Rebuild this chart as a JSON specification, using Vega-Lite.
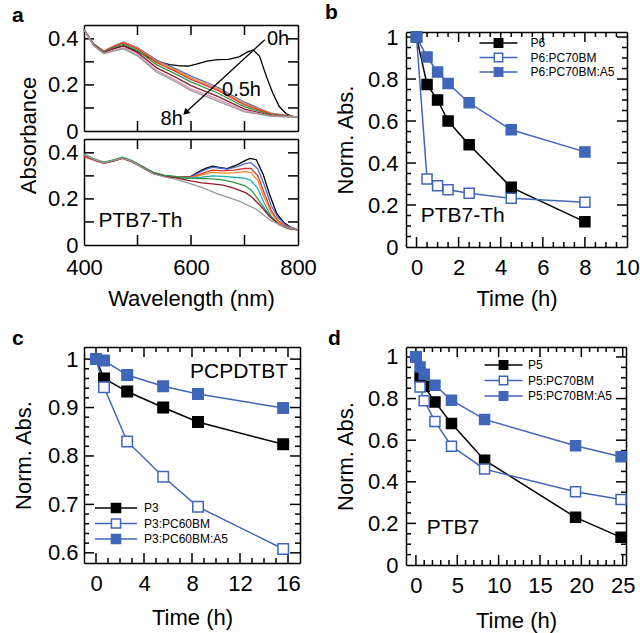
{
  "$schema": "https://vega.github.io/schema/vega-lite/v6.json",
  "autosize": {"type": "none"},
  "padding": {"left": 84, "top": 25, "right": 556, "bottom": 608},
  "config": {
    "font": "Liberation Sans",
    "view": {"stroke": null},
    "axis": {"domain": true, "domainColor": "black", "domainWidth": 1.5, "grid": false, "ticks": false, "labelColor": "black", "titleColor": "black", "labelFontSize": 22, "titleFontSize": 22, "titleFontWeight": "normal", "labelFlush": false, "labelOverlap": false, "labelBound": false},
    "legend": {"labelColor": "black"},
    "text": {"color": "black"},
    "rule": {"color": "black", "strokeWidth": 1.5}
  },
  "datasets": {
    "tax": [{"v":500},{"v":600},{"v":700}],
    "tay": [{"v":0.1},{"v":0.2},{"v":0.3},{"v":0.4}],
    "bxM": [{"v":0},{"v":2},{"v":4},{"v":6},{"v":8}],
    "bxm": [{"v":0.5},{"v":1},{"v":1.5},{"v":2.5},{"v":3},{"v":3.5},{"v":4.5},{"v":5},{"v":5.5},{"v":6.5},{"v":7},{"v":7.5},{"v":8.5},{"v":9},{"v":9.5}],
    "byM": [{"v":0.2},{"v":0.4},{"v":0.6},{"v":0.8},{"v":1}],
    "bym": [{"v":0.05},{"v":0.1},{"v":0.15},{"v":0.25},{"v":0.3},{"v":0.35},{"v":0.45},{"v":0.5},{"v":0.55},{"v":0.65},{"v":0.7},{"v":0.75},{"v":0.85},{"v":0.9},{"v":0.95}],
    "cxM": [{"v":0},{"v":4},{"v":8},{"v":12},{"v":16}],
    "cxm": [{"v":1},{"v":2},{"v":3},{"v":5},{"v":6},{"v":7},{"v":9},{"v":10},{"v":11},{"v":13},{"v":14},{"v":15}],
    "cyM": [{"v":0.6},{"v":0.7},{"v":0.8},{"v":0.9},{"v":1}],
    "cym": [{"v":0.62},{"v":0.64},{"v":0.66},{"v":0.68},{"v":0.72},{"v":0.74},{"v":0.76},{"v":0.78},{"v":0.82},{"v":0.84},{"v":0.86},{"v":0.88},{"v":0.92},{"v":0.94},{"v":0.96},{"v":0.98}],
    "dxM": [{"v":0},{"v":5},{"v":10},{"v":15},{"v":20},{"v":25}],
    "dxm": [{"v":1},{"v":2},{"v":3},{"v":4},{"v":6},{"v":7},{"v":8},{"v":9},{"v":11},{"v":12},{"v":13},{"v":14},{"v":16},{"v":17},{"v":18},{"v":19},{"v":21},{"v":22},{"v":23},{"v":24}],
    "dyM": [{"v":0.2},{"v":0.4},{"v":0.6},{"v":0.8},{"v":1}],
    "dym": [{"v":0.05},{"v":0.1},{"v":0.15},{"v":0.25},{"v":0.3},{"v":0.35},{"v":0.45},{"v":0.5},{"v":0.55},{"v":0.65},{"v":0.7},{"v":0.75},{"v":0.85},{"v":0.9},{"v":0.95}],
    "atop": [
      {"s":"0h","w":400,"a":0.44},{"s":"0h","w":418,"a":0.375},{"s":"0h","w":437,"a":0.345},{"s":"0h","w":455,"a":0.357},{"s":"0h","w":474,"a":0.37},{"s":"0h","w":500,"a":0.345},{"s":"0h","w":520,"a":0.32},{"s":"0h","w":536,"a":0.302},{"s":"0h","w":560,"a":0.288},{"s":"0h","w":580,"a":0.283},{"s":"0h","w":595,"a":0.282},{"s":"0h","w":610,"a":0.29},{"s":"0h","w":630,"a":0.303},{"s":"0h","w":650,"a":0.31},{"s":"0h","w":670,"a":0.311},{"s":"0h","w":690,"a":0.322},{"s":"0h","w":705,"a":0.342},{"s":"0h","w":716,"a":0.352},{"s":"0h","w":728,"a":0.325},{"s":"0h","w":741,"a":0.236},{"s":"0h","w":753,"a":0.164},{"s":"0h","w":765,"a":0.106},{"s":"0h","w":778,"a":0.075},{"s":"0h","w":790,"a":0.062},{"s":"0h","w":800,"a":0.058},
      {"s":"0.5h","w":400,"a":0.44},{"s":"0.5h","w":418,"a":0.378},{"s":"0.5h","w":437,"a":0.347},{"s":"0.5h","w":455,"a":0.368},{"s":"0.5h","w":474,"a":0.386},{"s":"0.5h","w":500,"a":0.362},{"s":"0.5h","w":536,"a":0.308},{"s":"0.5h","w":570,"a":0.272},{"s":"0.5h","w":600,"a":0.238},{"s":"0.5h","w":650,"a":0.19},{"s":"0.5h","w":700,"a":0.125},{"s":"0.5h","w":750,"a":0.077},{"s":"0.5h","w":800,"a":0.06},
      {"s":"1h","w":400,"a":0.44},{"s":"1h","w":418,"a":0.377},{"s":"1h","w":437,"a":0.346},{"s":"1h","w":455,"a":0.367},{"s":"1h","w":474,"a":0.385},{"s":"1h","w":500,"a":0.36},{"s":"1h","w":536,"a":0.303},{"s":"1h","w":570,"a":0.266},{"s":"1h","w":600,"a":0.231},{"s":"1h","w":650,"a":0.183},{"s":"1h","w":700,"a":0.119},{"s":"1h","w":750,"a":0.075},{"s":"1h","w":800,"a":0.06},
      {"s":"1.5h","w":400,"a":0.44},{"s":"1.5h","w":418,"a":0.376},{"s":"1.5h","w":437,"a":0.345},{"s":"1.5h","w":455,"a":0.365},{"s":"1.5h","w":474,"a":0.382},{"s":"1.5h","w":500,"a":0.356},{"s":"1.5h","w":536,"a":0.297},{"s":"1.5h","w":570,"a":0.26},{"s":"1.5h","w":600,"a":0.224},{"s":"1.5h","w":650,"a":0.176},{"s":"1.5h","w":700,"a":0.113},{"s":"1.5h","w":750,"a":0.073},{"s":"1.5h","w":800,"a":0.06},
      {"s":"2.5h","w":400,"a":0.44},{"s":"2.5h","w":418,"a":0.375},{"s":"2.5h","w":437,"a":0.343},{"s":"2.5h","w":455,"a":0.361},{"s":"2.5h","w":474,"a":0.377},{"s":"2.5h","w":500,"a":0.349},{"s":"2.5h","w":536,"a":0.287},{"s":"2.5h","w":570,"a":0.249},{"s":"2.5h","w":600,"a":0.213},{"s":"2.5h","w":650,"a":0.165},{"s":"2.5h","w":700,"a":0.105},{"s":"2.5h","w":750,"a":0.07},{"s":"2.5h","w":800,"a":0.06},
      {"s":"4.5h","w":400,"a":0.44},{"s":"4.5h","w":418,"a":0.373},{"s":"4.5h","w":437,"a":0.34},{"s":"4.5h","w":455,"a":0.356},{"s":"4.5h","w":474,"a":0.369},{"s":"4.5h","w":500,"a":0.34},{"s":"4.5h","w":536,"a":0.274},{"s":"4.5h","w":570,"a":0.235},{"s":"4.5h","w":600,"a":0.197},{"s":"4.5h","w":650,"a":0.15},{"s":"4.5h","w":700,"a":0.095},{"s":"4.5h","w":750,"a":0.067},{"s":"4.5h","w":800,"a":0.06},
      {"s":"6h","w":400,"a":0.44},{"s":"6h","w":418,"a":0.371},{"s":"6h","w":437,"a":0.337},{"s":"6h","w":455,"a":0.35},{"s":"6h","w":474,"a":0.361},{"s":"6h","w":500,"a":0.331},{"s":"6h","w":536,"a":0.262},{"s":"6h","w":570,"a":0.222},{"s":"6h","w":600,"a":0.183},{"s":"6h","w":650,"a":0.138},{"s":"6h","w":700,"a":0.088},{"s":"6h","w":750,"a":0.065},{"s":"6h","w":800,"a":0.06},
      {"s":"8h","w":400,"a":0.44},{"s":"8h","w":418,"a":0.37},{"s":"8h","w":437,"a":0.335},{"s":"8h","w":455,"a":0.347},{"s":"8h","w":474,"a":0.356},{"s":"8h","w":500,"a":0.326},{"s":"8h","w":536,"a":0.255},{"s":"8h","w":570,"a":0.215},{"s":"8h","w":600,"a":0.175},{"s":"8h","w":650,"a":0.13},{"s":"8h","w":700,"a":0.083},{"s":"8h","w":750,"a":0.064},{"s":"8h","w":800,"a":0.06}
    ],
    "abot": [
      {"s":"0h","w":400,"a":0.388},{"s":"0h","w":418,"a":0.371},{"s":"0h","w":437,"a":0.356},{"s":"0h","w":455,"a":0.365},{"s":"0h","w":472,"a":0.377},{"s":"0h","w":490,"a":0.362},{"s":"0h","w":510,"a":0.336},{"s":"0h","w":530,"a":0.311},{"s":"0h","w":550,"a":0.299},{"s":"0h","w":570,"a":0.296},{"s":"0h","w":585,"a":0.295},{"s":"0h","w":600,"a":0.298},{"s":"0h","w":620,"a":0.325},{"s":"0h","w":630,"a":0.335},{"s":"0h","w":640,"a":0.342},{"s":"0h","w":655,"a":0.336},{"s":"0h","w":668,"a":0.331},{"s":"0h","w":687,"a":0.349},{"s":"0h","w":700,"a":0.365},{"s":"0h","w":710,"a":0.376},{"s":"0h","w":722,"a":0.37},{"s":"0h","w":735,"a":0.306},{"s":"0h","w":747,"a":0.218},{"s":"0h","w":760,"a":0.138},{"s":"0h","w":773,"a":0.099},{"s":"0h","w":789,"a":0.073},{"s":"0h","w":800,"a":0.066},
      {"s":"0.5h","w":400,"a":0.39},{"s":"0.5h","w":418,"a":0.372},{"s":"0.5h","w":437,"a":0.357},{"s":"0.5h","w":455,"a":0.366},{"s":"0.5h","w":472,"a":0.378},{"s":"0.5h","w":490,"a":0.363},{"s":"0.5h","w":510,"a":0.337},{"s":"0.5h","w":530,"a":0.312},{"s":"0.5h","w":550,"a":0.3},{"s":"0.5h","w":570,"a":0.296},{"s":"0.5h","w":585,"a":0.294},{"s":"0.5h","w":600,"a":0.296},{"s":"0.5h","w":620,"a":0.32},{"s":"0.5h","w":640,"a":0.338},{"s":"0.5h","w":655,"a":0.333},{"s":"0.5h","w":668,"a":0.329},{"s":"0.5h","w":687,"a":0.34},{"s":"0.5h","w":700,"a":0.352},{"s":"0.5h","w":712,"a":0.357},{"s":"0.5h","w":725,"a":0.33},{"s":"0.5h","w":737,"a":0.26},{"s":"0.5h","w":750,"a":0.17},{"s":"0.5h","w":763,"a":0.118},{"s":"0.5h","w":778,"a":0.085},{"s":"0.5h","w":800,"a":0.066},
      {"s":"1h","w":400,"a":0.383},{"s":"1h","w":418,"a":0.368},{"s":"1h","w":437,"a":0.354},{"s":"1h","w":455,"a":0.364},{"s":"1h","w":472,"a":0.376},{"s":"1h","w":490,"a":0.361},{"s":"1h","w":510,"a":0.335},{"s":"1h","w":530,"a":0.31},{"s":"1h","w":550,"a":0.299},{"s":"1h","w":570,"a":0.295},{"s":"1h","w":585,"a":0.293},{"s":"1h","w":600,"a":0.294},{"s":"1h","w":620,"a":0.31},{"s":"1h","w":640,"a":0.325},{"s":"1h","w":660,"a":0.322},{"s":"1h","w":680,"a":0.325},{"s":"1h","w":700,"a":0.332},{"s":"1h","w":712,"a":0.332},{"s":"1h","w":725,"a":0.3},{"s":"1h","w":737,"a":0.225},{"s":"1h","w":750,"a":0.15},{"s":"1h","w":763,"a":0.105},{"s":"1h","w":778,"a":0.08},{"s":"1h","w":800,"a":0.066},
      {"s":"1.5h","w":400,"a":0.386},{"s":"1.5h","w":418,"a":0.37},{"s":"1.5h","w":437,"a":0.356},{"s":"1.5h","w":455,"a":0.366},{"s":"1.5h","w":472,"a":0.378},{"s":"1.5h","w":490,"a":0.363},{"s":"1.5h","w":510,"a":0.337},{"s":"1.5h","w":530,"a":0.312},{"s":"1.5h","w":550,"a":0.3},{"s":"1.5h","w":570,"a":0.296},{"s":"1.5h","w":585,"a":0.293},{"s":"1.5h","w":600,"a":0.293},{"s":"1.5h","w":620,"a":0.303},{"s":"1.5h","w":640,"a":0.315},{"s":"1.5h","w":660,"a":0.312},{"s":"1.5h","w":680,"a":0.313},{"s":"1.5h","w":700,"a":0.318},{"s":"1.5h","w":712,"a":0.314},{"s":"1.5h","w":725,"a":0.28},{"s":"1.5h","w":737,"a":0.205},{"s":"1.5h","w":750,"a":0.14},{"s":"1.5h","w":763,"a":0.1},{"s":"1.5h","w":778,"a":0.078},{"s":"1.5h","w":800,"a":0.066},
      {"s":"2.5h","w":400,"a":0.39},{"s":"2.5h","w":418,"a":0.372},{"s":"2.5h","w":437,"a":0.357},{"s":"2.5h","w":455,"a":0.367},{"s":"2.5h","w":472,"a":0.379},{"s":"2.5h","w":490,"a":0.364},{"s":"2.5h","w":510,"a":0.338},{"s":"2.5h","w":530,"a":0.313},{"s":"2.5h","w":550,"a":0.301},{"s":"2.5h","w":570,"a":0.297},{"s":"2.5h","w":585,"a":0.292},{"s":"2.5h","w":600,"a":0.291},{"s":"2.5h","w":620,"a":0.294},{"s":"2.5h","w":640,"a":0.3},{"s":"2.5h","w":660,"a":0.298},{"s":"2.5h","w":680,"a":0.294},{"s":"2.5h","w":700,"a":0.29},{"s":"2.5h","w":712,"a":0.28},{"s":"2.5h","w":725,"a":0.245},{"s":"2.5h","w":737,"a":0.18},{"s":"2.5h","w":750,"a":0.125},{"s":"2.5h","w":763,"a":0.092},{"s":"2.5h","w":778,"a":0.075},{"s":"2.5h","w":800,"a":0.066},
      {"s":"4.5h","w":400,"a":0.395},{"s":"4.5h","w":418,"a":0.375},{"s":"4.5h","w":437,"a":0.36},{"s":"4.5h","w":455,"a":0.369},{"s":"4.5h","w":472,"a":0.381},{"s":"4.5h","w":490,"a":0.366},{"s":"4.5h","w":510,"a":0.34},{"s":"4.5h","w":530,"a":0.315},{"s":"4.5h","w":550,"a":0.303},{"s":"4.5h","w":570,"a":0.298},{"s":"4.5h","w":585,"a":0.291},{"s":"4.5h","w":600,"a":0.289},{"s":"4.5h","w":620,"a":0.288},{"s":"4.5h","w":640,"a":0.287},{"s":"4.5h","w":660,"a":0.283},{"s":"4.5h","w":680,"a":0.272},{"s":"4.5h","w":700,"a":0.258},{"s":"4.5h","w":712,"a":0.24},{"s":"4.5h","w":725,"a":0.2},{"s":"4.5h","w":740,"a":0.15},{"s":"4.5h","w":752,"a":0.115},{"s":"4.5h","w":765,"a":0.088},{"s":"4.5h","w":780,"a":0.072},{"s":"4.5h","w":800,"a":0.066},
      {"s":"6h","w":400,"a":0.388},{"s":"6h","w":418,"a":0.371},{"s":"6h","w":437,"a":0.356},{"s":"6h","w":455,"a":0.365},{"s":"6h","w":472,"a":0.377},{"s":"6h","w":490,"a":0.362},{"s":"6h","w":510,"a":0.336},{"s":"6h","w":530,"a":0.311},{"s":"6h","w":550,"a":0.298},{"s":"6h","w":570,"a":0.292},{"s":"6h","w":585,"a":0.285},{"s":"6h","w":600,"a":0.278},{"s":"6h","w":620,"a":0.27},{"s":"6h","w":640,"a":0.265},{"s":"6h","w":660,"a":0.26},{"s":"6h","w":680,"a":0.247},{"s":"6h","w":703,"a":0.226},{"s":"6h","w":715,"a":0.205},{"s":"6h","w":728,"a":0.175},{"s":"6h","w":747,"a":0.124},{"s":"6h","w":766,"a":0.087},{"s":"6h","w":785,"a":0.07},{"s":"6h","w":800,"a":0.066},
      {"s":"8h","w":400,"a":0.392},{"s":"8h","w":418,"a":0.373},{"s":"8h","w":437,"a":0.357},{"s":"8h","w":455,"a":0.366},{"s":"8h","w":472,"a":0.378},{"s":"8h","w":490,"a":0.363},{"s":"8h","w":510,"a":0.335},{"s":"8h","w":530,"a":0.309},{"s":"8h","w":550,"a":0.296},{"s":"8h","w":570,"a":0.286},{"s":"8h","w":585,"a":0.276},{"s":"8h","w":600,"a":0.265},{"s":"8h","w":620,"a":0.25},{"s":"8h","w":650,"a":0.222},{"s":"8h","w":690,"a":0.19},{"s":"8h","w":722,"a":0.155},{"s":"8h","w":747,"a":0.11},{"s":"8h","w":773,"a":0.08},{"s":"8h","w":800,"a":0.066}
    ],
    "b": [
      {"s":"P6","t":0,"v":1.0},{"s":"P6","t":0.5,"v":0.774},{"s":"P6","t":1,"v":0.70},{"s":"P6","t":1.5,"v":0.60},{"s":"P6","t":2.5,"v":0.487},{"s":"P6","t":4.5,"v":0.284},{"s":"P6","t":8,"v":0.12},
      {"s":"P6:PC70BM","t":0,"v":1.0},{"s":"P6:PC70BM","t":0.5,"v":0.324},{"s":"P6:PC70BM","t":1,"v":0.292},{"s":"P6:PC70BM","t":1.5,"v":0.273},{"s":"P6:PC70BM","t":2.5,"v":0.256},{"s":"P6:PC70BM","t":4.5,"v":0.232},{"s":"P6:PC70BM","t":8,"v":0.213},
      {"s":"P6:PC70BM:A5","t":0,"v":1.0},{"s":"P6:PC70BM:A5","t":0.5,"v":0.905},{"s":"P6:PC70BM:A5","t":1,"v":0.833},{"s":"P6:PC70BM:A5","t":1.5,"v":0.779},{"s":"P6:PC70BM:A5","t":2.5,"v":0.687},{"s":"P6:PC70BM:A5","t":4.5,"v":0.558},{"s":"P6:PC70BM:A5","t":8,"v":0.453}
    ],
    "c": [
      {"s":"P3","t":0,"v":1.0},{"s":"P3","t":0.67,"v":0.96},{"s":"P3","t":2.6,"v":0.933},{"s":"P3","t":5.6,"v":0.9},{"s":"P3","t":8.5,"v":0.87},{"s":"P3","t":15.6,"v":0.824},
      {"s":"P3:PC60BM","t":0,"v":1.0},{"s":"P3:PC60BM","t":0.67,"v":0.942},{"s":"P3:PC60BM","t":2.6,"v":0.83},{"s":"P3:PC60BM","t":5.6,"v":0.757},{"s":"P3:PC60BM","t":8.5,"v":0.695},{"s":"P3:PC60BM","t":15.6,"v":0.608},
      {"s":"P3:PC60BM:A5","t":0,"v":1.0},{"s":"P3:PC60BM:A5","t":0.67,"v":0.997},{"s":"P3:PC60BM:A5","t":2.6,"v":0.967},{"s":"P3:PC60BM:A5","t":5.6,"v":0.944},{"s":"P3:PC60BM:A5","t":8.5,"v":0.928},{"s":"P3:PC60BM:A5","t":15.6,"v":0.899}
    ],
    "d": [
      {"s":"P5","t":0,"v":1.0},{"s":"P5","t":0.5,"v":0.904},{"s":"P5","t":1,"v":0.859},{"s":"P5","t":2.3,"v":0.784},{"s":"P5","t":4.3,"v":0.68},{"s":"P5","t":8.3,"v":0.504},{"s":"P5","t":19.3,"v":0.229},{"s":"P5","t":24.8,"v":0.133},
      {"s":"P5:PC70BM","t":0,"v":1.0},{"s":"P5:PC70BM","t":0.5,"v":0.856},{"s":"P5:PC70BM","t":1,"v":0.79},{"s":"P5:PC70BM","t":2.3,"v":0.69},{"s":"P5:PC70BM","t":4.3,"v":0.571},{"s":"P5:PC70BM","t":8.3,"v":0.461},{"s":"P5:PC70BM","t":19.3,"v":0.352},{"s":"P5:PC70BM","t":24.8,"v":0.315},
      {"s":"P5:PC70BM:A5","t":0,"v":1.0},{"s":"P5:PC70BM:A5","t":0.5,"v":0.952},{"s":"P5:PC70BM:A5","t":1,"v":0.917},{"s":"P5:PC70BM:A5","t":2.3,"v":0.864},{"s":"P5:PC70BM:A5","t":4.3,"v":0.792},{"s":"P5:PC70BM:A5","t":8.3,"v":0.70},{"s":"P5:PC70BM:A5","t":19.3,"v":0.573},{"s":"P5:PC70BM:A5","t":24.8,"v":0.52}
    ]
  },
  "vconcat": [
    {
      "hconcat": [
        {
          "vconcat": [
            {
              "width": 214, "height": 106,
              "title": {"text": "a", "anchor": "start", "frame": "group", "dx": -72, "dy": 19, "offset": 0, "baseline": "alphabetic", "fontSize": 21, "fontWeight": "bold"},
              "layer": [
                {"data": {"name": "tax"}, "mark": {"type": "rule", "y2Offset": -10}, "encoding": {"x": {"field": "v", "type": "quantitative", "axis": null}, "x2": {"field": "v"}, "y": {"datum": 0, "type": "quantitative", "axis": null}, "y2": {"datum": 0}}},
                {"data": {"name": "tax"}, "mark": {"type": "rule", "y2Offset": 10}, "encoding": {"x": {"field": "v", "type": "quantitative", "axis": null}, "x2": {"field": "v"}, "y": {"datum": 0.46, "type": "quantitative", "axis": null}, "y2": {"datum": 0.46}}},
                {"data": {"name": "tay"}, "mark": {"type": "rule", "x2Offset": 10}, "encoding": {"y": {"field": "v", "type": "quantitative", "axis": null}, "y2": {"field": "v"}, "x": {"datum": 400, "type": "quantitative", "axis": null}, "x2": {"datum": 400}}},
                {"data": {"name": "tay"}, "mark": {"type": "rule", "x2Offset": -10}, "encoding": {"y": {"field": "v", "type": "quantitative", "axis": null}, "y2": {"field": "v"}, "x": {"datum": 800, "type": "quantitative", "axis": null}, "x2": {"datum": 800}}},
                {
                  "data": {"name": "atop"},
                  "mark": {"type": "line", "strokeWidth": 1.3},
                  "encoding": {
                    "x": {"field": "w", "type": "quantitative", "scale": {"domain": [400, 800], "nice": false, "zero": false},
                          "axis": {"orient": "bottom", "labels": false, "title": null}},
                    "y": {"field": "a", "type": "quantitative", "scale": {"domain": [0, 0.46], "nice": false, "zero": false},
                          "axis": {"orient": "left", "values": [0, 0.2, 0.4], "format": ".1~f", "labelPadding": 6, "title": "Absorbance", "titleY": 110, "titlePadding": 7}},
                    "color": {"field": "s", "type": "nominal", "scale": {"domain": ["0h","0.5h","1h","1.5h","2.5h","4.5h","6h","8h"], "range": ["#000000","#4a6fd6","#f0892a","#e2352c","#2d9a3f","#8c1d2e","#e08fb5","#9a9a9a"]}, "legend": null}
                  }
                },
                {
                  "data": {"values": [{}]},
                  "mark": {"type": "rule", "strokeWidth": 1.3, "color": "black"},
                  "encoding": {
                    "x": {"datum": 738, "type": "quantitative", "axis": {"orient": "top", "labels": false, "title": null}},
                    "y": {"datum": 0.396, "type": "quantitative", "axis": {"orient": "right", "labels": false, "title": null}},
                    "x2": {"datum": 590},
                    "y2": {"datum": 0.08}
                  }
                },
                {
                  "data": {"values": [{}]},
                  "mark": {"type": "point", "shape": "triangle-up", "angle": 227, "size": 55, "filled": true, "color": "black", "opacity": 1},
                  "encoding": {"x": {"datum": 590, "type": "quantitative", "axis": null}, "y": {"datum": 0.08, "type": "quantitative", "axis": null}}
                },
                {
                  "data": {"values": [{}]},
                  "mark": {"type": "text", "text": "0h", "align": "left", "baseline": "middle", "fontSize": 20},
                  "encoding": {"x": {"datum": 742, "type": "quantitative", "axis": null}, "y": {"datum": 0.398, "type": "quantitative", "axis": null}}
                },
                {
                  "data": {"values": [{}]},
                  "mark": {"type": "text", "text": "0.5h", "align": "left", "baseline": "middle", "fontSize": 20},
                  "encoding": {"x": {"datum": 658, "type": "quantitative", "axis": null}, "y": {"datum": 0.18, "type": "quantitative", "axis": null}}
                },
                {
                  "data": {"values": [{}]},
                  "mark": {"type": "text", "text": "8h", "align": "left", "baseline": "middle", "fontSize": 20},
                  "encoding": {"x": {"datum": 543, "type": "quantitative", "axis": null}, "y": {"datum": 0.05, "type": "quantitative", "axis": null}}
                }
              ],
              "resolve": {"axis": {"x": "independent", "y": "independent"}}
            },
            {
              "width": 214, "height": 106,
              "layer": [
                {"data": {"name": "tax"}, "mark": {"type": "rule", "y2Offset": -10}, "encoding": {"x": {"field": "v", "type": "quantitative", "axis": null}, "x2": {"field": "v"}, "y": {"datum": 0, "type": "quantitative", "axis": null}, "y2": {"datum": 0}}},
                {"data": {"name": "tax"}, "mark": {"type": "rule", "y2Offset": 10}, "encoding": {"x": {"field": "v", "type": "quantitative", "axis": null}, "x2": {"field": "v"}, "y": {"datum": 0.46, "type": "quantitative", "axis": null}, "y2": {"datum": 0.46}}},
                {"data": {"name": "tay"}, "mark": {"type": "rule", "x2Offset": 10}, "encoding": {"y": {"field": "v", "type": "quantitative", "axis": null}, "y2": {"field": "v"}, "x": {"datum": 400, "type": "quantitative", "axis": null}, "x2": {"datum": 400}}},
                {"data": {"name": "tay"}, "mark": {"type": "rule", "x2Offset": -10}, "encoding": {"y": {"field": "v", "type": "quantitative", "axis": null}, "y2": {"field": "v"}, "x": {"datum": 800, "type": "quantitative", "axis": null}, "x2": {"datum": 800}}},
                {
                  "data": {"name": "abot"},
                  "mark": {"type": "line", "strokeWidth": 1.3},
                  "encoding": {
                    "x": {"field": "w", "type": "quantitative", "scale": {"domain": [400, 800], "nice": false, "zero": false},
                          "axis": {"orient": "bottom", "values": [400, 600, 800], "format": ".0f", "labelPadding": 12, "title": "Wavelength (nm)", "titlePadding": 10}},
                    "y": {"field": "a", "type": "quantitative", "scale": {"domain": [0, 0.46], "nice": false, "zero": false},
                          "axis": {"orient": "left", "values": [0, 0.2, 0.4], "format": ".1~f", "labelPadding": 6, "title": null}},
                    "color": {"field": "s", "type": "nominal", "scale": {"domain": ["0h","0.5h","1h","1.5h","2.5h","4.5h","6h","8h"], "range": ["#000000","#4a6fd6","#e2352c","#f0892a","#22b0b0","#2d9a3f","#8c1d2e","#9a9a9a"]}, "legend": null}
                  }
                },
                {
                  "data": {"values": [{}]},
                  "mark": {"type": "text", "text": "PTB7-Th", "align": "left", "baseline": "middle", "fontSize": 21},
                  "encoding": {
                    "x": {"datum": 427, "type": "quantitative", "axis": {"orient": "top", "labels": false, "title": null}},
                    "y": {"datum": 0.103, "type": "quantitative", "axis": {"orient": "right", "labels": false, "title": null}}
                  }
                }
              ],
              "resolve": {"axis": {"x": "independent", "y": "independent"}}
            }
          ],
          "spacing": 8,
          "bounds": "flush",
          "resolve": {"scale": {"color": "independent", "stroke": "independent", "fill": "independent"}}
        },
        {
          "vconcat": [
            {"width": 221, "height": 1, "data": {"values": []}, "mark": "point", "view": {"stroke": null}},
            {
              "width": 221, "height": 215,
              "title": {"text": "b", "anchor": "start", "frame": "group", "dx": -81, "dy": 14, "offset": 0, "baseline": "alphabetic", "fontSize": 21, "fontWeight": "bold"},
              "data": {"name": "b"},
              "layer": [
                {"data": {"name": "bxM"}, "mark": {"type": "rule", "y2Offset": -10}, "encoding": {"x": {"field": "v", "type": "quantitative", "axis": null}, "x2": {"field": "v"}, "y": {"datum": 0, "type": "quantitative", "axis": null}, "y2": {"datum": 0}}},
                {"data": {"name": "bxM"}, "mark": {"type": "rule", "y2Offset": 10}, "encoding": {"x": {"field": "v", "type": "quantitative", "axis": null}, "x2": {"field": "v"}, "y": {"datum": 1.024, "type": "quantitative", "axis": null}, "y2": {"datum": 1.024}}},
                {"data": {"name": "bxm"}, "mark": {"type": "rule", "y2Offset": -5}, "encoding": {"x": {"field": "v", "type": "quantitative", "axis": null}, "x2": {"field": "v"}, "y": {"datum": 0, "type": "quantitative", "axis": null}, "y2": {"datum": 0}}},
                {"data": {"name": "bxm"}, "mark": {"type": "rule", "y2Offset": 5}, "encoding": {"x": {"field": "v", "type": "quantitative", "axis": null}, "x2": {"field": "v"}, "y": {"datum": 1.024, "type": "quantitative", "axis": null}, "y2": {"datum": 1.024}}},
                {"data": {"name": "byM"}, "mark": {"type": "rule", "x2Offset": 10}, "encoding": {"y": {"field": "v", "type": "quantitative", "axis": null}, "y2": {"field": "v"}, "x": {"datum": -0.5, "type": "quantitative", "axis": null}, "x2": {"datum": -0.5}}},
                {"data": {"name": "byM"}, "mark": {"type": "rule", "x2Offset": -10}, "encoding": {"y": {"field": "v", "type": "quantitative", "axis": null}, "y2": {"field": "v"}, "x": {"datum": 10, "type": "quantitative", "axis": null}, "x2": {"datum": 10}}},
                {"data": {"name": "bym"}, "mark": {"type": "rule", "x2Offset": 5}, "encoding": {"y": {"field": "v", "type": "quantitative", "axis": null}, "y2": {"field": "v"}, "x": {"datum": -0.5, "type": "quantitative", "axis": null}, "x2": {"datum": -0.5}}},
                {"data": {"name": "bym"}, "mark": {"type": "rule", "x2Offset": -5}, "encoding": {"y": {"field": "v", "type": "quantitative", "axis": null}, "y2": {"field": "v"}, "x": {"datum": 10, "type": "quantitative", "axis": null}, "x2": {"datum": 10}}},
                {
                  "mark": {"type": "line", "strokeWidth": 1.5},
                  "encoding": {
                    "x": {"field": "t", "type": "quantitative", "scale": {"domain": [-0.5, 10], "nice": false, "zero": false},
                          "axis": {"orient": "bottom", "values": [0,2,4,6,8,10], "format": ".0f", "labelPadding": 10, "title": "Time (h)", "titlePadding": 10}},
                    "y": {"field": "v", "type": "quantitative", "scale": {"domain": [0, 1.024], "nice": false, "zero": false},
                          "axis": {"orient": "left", "values": [0,0.2,0.4,0.6,0.8,1], "format": ".1~f", "labelPadding": 8, "title": "Norm. Abs.", "titlePadding": 10}},
                    "stroke": {"field": "s", "type": "nominal", "scale": {"domain": ["P6","P6:PC70BM","P6:PC70BM:A5"], "range": ["#000000","#3f66b8","#3f66b8"]},
                               "legend": {"orient": "none", "legendX": 86.5, "legendY": 5, "title": null, "symbolType": "M-5.43,0H-1.2M1.2,0H5.43M-1.2,-1.2H1.2V1.2H-1.2Z", "symbolSize": 49, "symbolStrokeWidth": 1.5, "labelFontSize": 12, "labelOffset": 26, "rowPadding": -1.5}}
                  }
                },
                {
                  "mark": {"type": "point", "shape": "square", "filled": true, "size": 100, "strokeWidth": 1.5, "opacity": 1},
                  "encoding": {
                    "x": {"field": "t", "type": "quantitative", "axis": {"orient": "top", "labels": false, "title": null}},
                    "y": {"field": "v", "type": "quantitative", "axis": {"orient": "right", "labels": false, "title": null}},
                    "stroke": {"field": "s", "type": "nominal", "scale": {"domain": ["P6","P6:PC70BM","P6:PC70BM:A5"], "range": ["#000000","#3f66b8","#3f66b8"]},
                               "legend": {"orient": "none", "legendX": 86.5, "legendY": 5, "title": null, "symbolType": "M-5.43,0H-1.2M1.2,0H5.43M-1.2,-1.2H1.2V1.2H-1.2Z", "symbolSize": 49, "symbolStrokeWidth": 1.5, "labelFontSize": 12, "labelOffset": 26, "rowPadding": -1.5}},
                    "fill": {"field": "s", "type": "nominal", "scale": {"domain": ["P6","P6:PC70BM","P6:PC70BM:A5"], "range": ["#000000","#ffffff","#3f66b8"]},
                               "legend": {"orient": "none", "legendX": 86.5, "legendY": 5, "title": null, "symbolType": "M-5.43,0H-1.2M1.2,0H5.43M-1.2,-1.2H1.2V1.2H-1.2Z", "symbolSize": 49, "symbolStrokeWidth": 1.5, "labelFontSize": 12, "labelOffset": 26, "rowPadding": -1.5}}
                  }
                },
                {
                  "data": {"values": [{}]},
                  "mark": {"type": "text", "text": "PTB7-Th", "align": "left", "baseline": "middle", "fontSize": 21},
                  "encoding": {"x": {"datum": 0.2, "type": "quantitative", "axis": null}, "y": {"datum": 0.15, "type": "quantitative", "axis": null}}
                }
              ],
              "resolve": {"axis": {"x": "independent", "y": "independent"}}
            }
          ],
          "spacing": 6,
          "bounds": "flush",
          "resolve": {"scale": {"color": "independent", "stroke": "independent", "fill": "independent"}}
        }
      ],
      "spacing": 322,
      "bounds": "flush",
      "resolve": {"scale": {"color": "independent", "stroke": "independent", "fill": "independent"}}
    },
    {
      "hconcat": [
        {
          "width": 216, "height": 216,
          "title": {"text": "c", "anchor": "start", "frame": "group", "dx": -72, "dy": 20, "offset": 0, "baseline": "alphabetic", "fontSize": 21, "fontWeight": "bold"},
          "data": {"name": "c"},
          "layer": [
            {"data": {"name": "cxM"}, "mark": {"type": "rule", "y2Offset": -10}, "encoding": {"x": {"field": "v", "type": "quantitative", "axis": null}, "x2": {"field": "v"}, "y": {"datum": 0.579, "type": "quantitative", "axis": null}, "y2": {"datum": 0.579}}},
            {"data": {"name": "cxM"}, "mark": {"type": "rule", "y2Offset": 10}, "encoding": {"x": {"field": "v", "type": "quantitative", "axis": null}, "x2": {"field": "v"}, "y": {"datum": 1.025, "type": "quantitative", "axis": null}, "y2": {"datum": 1.025}}},
            {"data": {"name": "cxm"}, "mark": {"type": "rule", "y2Offset": -5}, "encoding": {"x": {"field": "v", "type": "quantitative", "axis": null}, "x2": {"field": "v"}, "y": {"datum": 0.579, "type": "quantitative", "axis": null}, "y2": {"datum": 0.579}}},
            {"data": {"name": "cxm"}, "mark": {"type": "rule", "y2Offset": 5}, "encoding": {"x": {"field": "v", "type": "quantitative", "axis": null}, "x2": {"field": "v"}, "y": {"datum": 1.025, "type": "quantitative", "axis": null}, "y2": {"datum": 1.025}}},
            {"data": {"name": "cyM"}, "mark": {"type": "rule", "x2Offset": 10}, "encoding": {"y": {"field": "v", "type": "quantitative", "axis": null}, "y2": {"field": "v"}, "x": {"datum": -1, "type": "quantitative", "axis": null}, "x2": {"datum": -1}}},
            {"data": {"name": "cyM"}, "mark": {"type": "rule", "x2Offset": -10}, "encoding": {"y": {"field": "v", "type": "quantitative", "axis": null}, "y2": {"field": "v"}, "x": {"datum": 17, "type": "quantitative", "axis": null}, "x2": {"datum": 17}}},
            {"data": {"name": "cym"}, "mark": {"type": "rule", "x2Offset": 5}, "encoding": {"y": {"field": "v", "type": "quantitative", "axis": null}, "y2": {"field": "v"}, "x": {"datum": -1, "type": "quantitative", "axis": null}, "x2": {"datum": -1}}},
            {"data": {"name": "cym"}, "mark": {"type": "rule", "x2Offset": -5}, "encoding": {"y": {"field": "v", "type": "quantitative", "axis": null}, "y2": {"field": "v"}, "x": {"datum": 17, "type": "quantitative", "axis": null}, "x2": {"datum": 17}}},
            {
              "mark": {"type": "line", "strokeWidth": 1.5},
              "encoding": {
                "x": {"field": "t", "type": "quantitative", "scale": {"domain": [-1, 17], "nice": false, "zero": false},
                      "axis": {"orient": "bottom", "values": [0,4,8,12,16], "format": ".0f", "labelPadding": 10, "title": "Time (h)", "titlePadding": 13}},
                "y": {"field": "v", "type": "quantitative", "scale": {"domain": [0.579, 1.025], "nice": false, "zero": false},
                      "axis": {"orient": "left", "values": [0.6,0.7,0.8,0.9,1], "format": ".1~f", "labelPadding": 6, "title": "Norm. Abs.", "titlePadding": 12}},
                "stroke": {"field": "s", "type": "nominal", "scale": {"domain": ["P3","P3:PC60BM","P3:PC60BM:A5"], "range": ["#000000","#3f66b8","#3f66b8"]},
                           "legend": {"orient": "none", "legendX": 26, "legendY": 155, "title": null, "symbolType": "M-6,0H-1.3M1.3,0H6M-1.3,-1.3H1.3V1.3H-1.3Z", "symbolSize": 49, "symbolStrokeWidth": 1.5, "labelFontSize": 12, "labelOffset": 22, "rowPadding": -0.5}}
              }
            },
            {
              "mark": {"type": "point", "shape": "square", "filled": true, "size": 110, "strokeWidth": 1.5, "opacity": 1},
              "encoding": {
                "x": {"field": "t", "type": "quantitative", "axis": {"orient": "top", "labels": false, "title": null}},
                "y": {"field": "v", "type": "quantitative", "axis": {"orient": "right", "labels": false, "title": null}},
                "stroke": {"field": "s", "type": "nominal", "scale": {"domain": ["P3","P3:PC60BM","P3:PC60BM:A5"], "range": ["#000000","#3f66b8","#3f66b8"]},
                           "legend": {"orient": "none", "legendX": 26, "legendY": 155, "title": null, "symbolType": "M-6,0H-1.3M1.3,0H6M-1.3,-1.3H1.3V1.3H-1.3Z", "symbolSize": 49, "symbolStrokeWidth": 1.5, "labelFontSize": 12, "labelOffset": 22, "rowPadding": -0.5}},
                "fill": {"field": "s", "type": "nominal", "scale": {"domain": ["P3","P3:PC60BM","P3:PC60BM:A5"], "range": ["#000000","#ffffff","#3f66b8"]},
                           "legend": {"orient": "none", "legendX": 26, "legendY": 155, "title": null, "symbolType": "M-6,0H-1.3M1.3,0H6M-1.3,-1.3H1.3V1.3H-1.3Z", "symbolSize": 49, "symbolStrokeWidth": 1.5, "labelFontSize": 12, "labelOffset": 22, "rowPadding": -0.5}}
              }
            },
            {
              "data": {"values": [{}]},
              "mark": {"type": "text", "text": "PCPDTBT", "align": "right", "baseline": "middle", "fontSize": 21},
              "encoding": {"x": {"datum": 16.0, "type": "quantitative", "axis": null}, "y": {"datum": 0.974, "type": "quantitative", "axis": null}}
            }
          ],
          "resolve": {"axis": {"x": "independent", "y": "independent"}}
        },
        {
          "width": 220, "height": 218,
          "title": {"text": "d", "anchor": "start", "frame": "group", "dx": -78, "dy": 20, "offset": 0, "baseline": "alphabetic", "fontSize": 21, "fontWeight": "bold"},
          "data": {"name": "d"},
          "layer": [
            {"data": {"name": "dxM"}, "mark": {"type": "rule", "y2Offset": -10}, "encoding": {"x": {"field": "v", "type": "quantitative", "axis": null}, "x2": {"field": "v"}, "y": {"datum": 0, "type": "quantitative", "axis": null}, "y2": {"datum": 0}}},
            {"data": {"name": "dxM"}, "mark": {"type": "rule", "y2Offset": 10}, "encoding": {"x": {"field": "v", "type": "quantitative", "axis": null}, "x2": {"field": "v"}, "y": {"datum": 1.048, "type": "quantitative", "axis": null}, "y2": {"datum": 1.048}}},
            {"data": {"name": "dxm"}, "mark": {"type": "rule", "y2Offset": -5}, "encoding": {"x": {"field": "v", "type": "quantitative", "axis": null}, "x2": {"field": "v"}, "y": {"datum": 0, "type": "quantitative", "axis": null}, "y2": {"datum": 0}}},
            {"data": {"name": "dxm"}, "mark": {"type": "rule", "y2Offset": 5}, "encoding": {"x": {"field": "v", "type": "quantitative", "axis": null}, "x2": {"field": "v"}, "y": {"datum": 1.048, "type": "quantitative", "axis": null}, "y2": {"datum": 1.048}}},
            {"data": {"name": "dyM"}, "mark": {"type": "rule", "x2Offset": 10}, "encoding": {"y": {"field": "v", "type": "quantitative", "axis": null}, "y2": {"field": "v"}, "x": {"datum": -1.2, "type": "quantitative", "axis": null}, "x2": {"datum": -1.2}}},
            {"data": {"name": "dyM"}, "mark": {"type": "rule", "x2Offset": -10}, "encoding": {"y": {"field": "v", "type": "quantitative", "axis": null}, "y2": {"field": "v"}, "x": {"datum": 25.4, "type": "quantitative", "axis": null}, "x2": {"datum": 25.4}}},
            {"data": {"name": "dym"}, "mark": {"type": "rule", "x2Offset": 5}, "encoding": {"y": {"field": "v", "type": "quantitative", "axis": null}, "y2": {"field": "v"}, "x": {"datum": -1.2, "type": "quantitative", "axis": null}, "x2": {"datum": -1.2}}},
            {"data": {"name": "dym"}, "mark": {"type": "rule", "x2Offset": -5}, "encoding": {"y": {"field": "v", "type": "quantitative", "axis": null}, "y2": {"field": "v"}, "x": {"datum": 25.4, "type": "quantitative", "axis": null}, "x2": {"datum": 25.4}}},
            {
              "mark": {"type": "line", "strokeWidth": 1.5},
              "encoding": {
                "x": {"field": "t", "type": "quantitative", "scale": {"domain": [-1.2, 25.4], "nice": false, "zero": false},
                      "axis": {"orient": "bottom", "values": [0,5,10,15,20,25], "format": ".0f", "labelPadding": 10, "title": "Time (h)", "titlePadding": 14}},
                "y": {"field": "v", "type": "quantitative", "scale": {"domain": [0, 1.048], "nice": false, "zero": false},
                      "axis": {"orient": "left", "values": [0,0.2,0.4,0.6,0.8,1], "format": ".1~f", "labelPadding": 8, "title": "Norm. Abs.", "titlePadding": 10}},
                "stroke": {"field": "s", "type": "nominal", "scale": {"domain": ["P5","P5:PC70BM","P5:PC70BM:A5"], "range": ["#000000","#3f66b8","#3f66b8"]},
                           "legend": {"orient": "none", "legendX": 91.5, "legendY": 12, "title": null, "symbolType": "M-5.43,0H-1.2M1.2,0H5.43M-1.2,-1.2H1.2V1.2H-1.2Z", "symbolSize": 49, "symbolStrokeWidth": 1.5, "labelFontSize": 12, "labelOffset": 18.5, "rowPadding": -0.5}}
              }
            },
            {
              "mark": {"type": "point", "shape": "square", "filled": true, "size": 100, "strokeWidth": 1.5, "opacity": 1},
              "encoding": {
                "x": {"field": "t", "type": "quantitative", "axis": {"orient": "top", "labels": false, "title": null}},
                "y": {"field": "v", "type": "quantitative", "axis": {"orient": "right", "labels": false, "title": null}},
                "stroke": {"field": "s", "type": "nominal", "scale": {"domain": ["P5","P5:PC70BM","P5:PC70BM:A5"], "range": ["#000000","#3f66b8","#3f66b8"]},
                           "legend": {"orient": "none", "legendX": 91.5, "legendY": 12, "title": null, "symbolType": "M-5.43,0H-1.2M1.2,0H5.43M-1.2,-1.2H1.2V1.2H-1.2Z", "symbolSize": 49, "symbolStrokeWidth": 1.5, "labelFontSize": 12, "labelOffset": 18.5, "rowPadding": -0.5}},
                "fill": {"field": "s", "type": "nominal", "scale": {"domain": ["P5","P5:PC70BM","P5:PC70BM:A5"], "range": ["#000000","#ffffff","#3f66b8"]},
                           "legend": {"orient": "none", "legendX": 91.5, "legendY": 12, "title": null, "symbolType": "M-5.43,0H-1.2M1.2,0H5.43M-1.2,-1.2H1.2V1.2H-1.2Z", "symbolSize": 49, "symbolStrokeWidth": 1.5, "labelFontSize": 12, "labelOffset": 18.5, "rowPadding": -0.5}}
              }
            },
            {
              "data": {"values": [{}]},
              "mark": {"type": "text", "text": "PTB7", "align": "left", "baseline": "middle", "fontSize": 21},
              "encoding": {"x": {"datum": 1.3, "type": "quantitative", "axis": null}, "y": {"datum": 0.18, "type": "quantitative", "axis": null}}
            }
          ],
          "resolve": {"axis": {"x": "independent", "y": "independent"}}
        }
      ],
      "spacing": 106,
      "bounds": "flush",
      "resolve": {"scale": {"color": "independent", "stroke": "independent", "fill": "independent"}}
    }
  ],
  "spacing": 322,
  "bounds": "flush",
  "resolve": {"scale": {"color": "independent", "stroke": "independent", "fill": "independent"}}
}
